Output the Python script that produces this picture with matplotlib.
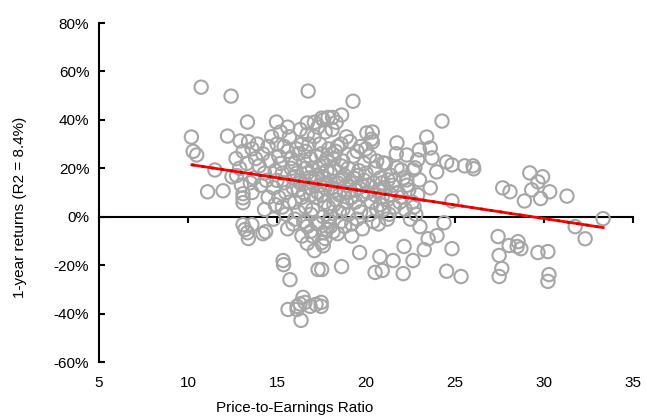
import numpy as np
import matplotlib.pyplot as plt
from matplotlib.ticker import FuncFormatter
import matplotlib.transforms as mtransforms

plt.rcParams['font.family'] = ['Liberation Sans', 'DejaVu Sans']

# (P/E ratio, 1-year return in %)
outliers = [
    (10.74, 53.5), (12.42, 49.8), (16.75, 51.9), (13.34, 39.1), (14.97, 39.1), (10.19, 32.9),
    (12.22, 33.3), (12.93, 31.3), (10.29, 27), (10.49, 25.5), (11.51, 19.3), (12.47, 16.5),
    (12.73, 17), (11.1, 10.3), (11.97, 10.7), (13.09, 9.5), (13.09, 7.8), (13.09, 5.8),
    (13.09, -3.3), (13.59, -3.3), (13.34, -6.6), (13.39, -9), (14.21, -7), (13.2, -5.3),
    (14.36, -6.2), (15.34, -18.1), (15.37, -19.8), (15.73, -26),
    (15.62, -38.3), (16.13, -37), (16.46, -33.3), (16.57, -35.4), (16.86, -37), (17.19, -36.2),
    (16.35, -42.8), (16.13, -38.3), (16.29, -36),
    (17.31, -21.8), (17.51, -21.8), (17.48, -35.4), (17.48, -37),
    (18.15, -6.2), (17.61, -6.6), (17.51, -10.7), (19.64, -14.8), (18.63, -20.6),
    (20.78, -16.5), (21.52, -18.1), (20.91, -22.2), (20.51, -23.0), (22.09, -23.5), (22.14, -12.3),
    (22.64, -18.1), (23.03, -4.1), (23.49, -9.1), (23.99, -7.8), (23.27, -13.6), (24.38, -2.5),
    (24.83, -13.2), (24.53, -22.5), (25.34, -24.7),
    (28.9, 6.5), (29.81, 7.5), (31.29, 8.5),
    (27.42, -8.2), (28.04, -11.9), (28.54, -10.3), (28.7, -13.2), (28.49, -12.3), (27.48, -16),
    (27.63, -21.4), (27.48, -24.7), (29.66, -14.8), (30.22, -14.4), (30.28, -23.9), (30.22, -26.7),
    (31.75, -4.1), (32.31, -9.1), (33.32, -0.8),
    (25.54, 21), (26.01, 21), (26.05, 19.8), (29.2, 18.1), (29.92, 16.5), (30.32, 10.3),
    (29.66, 14.4), (29.31, 11.1), (27.68, 11.9), (28.09, 10.3),
    (19.27, 47.7), (24.27, 39.5), (21.74, 30.5), (23.41, 32.9), (23.61, 28.4), (23.0, 27.6),
    (22.29, 25.5), (22.75, 20.2), (23.97, 18.5), (21.98, 19.3), (20.97, 22.2), (24.53, 22.6),
    (24.83, 21.4), (23.71, 24.3), (22.9, 23.5), (23.61, 11.9), (23.0, 15.2), (24.83, 6.5),
    (20.05, 34.6), (20.36, 35.0), (20.36, 30.9), (18.63, 42), (18.33, 39), (17.61, 40), (18.12, 41),
    (17.71, 35), (21.24, 15.2), (21.74, 20.2), (22.29, 15.2), (22.64, 19.3),
    (16.7, 38.7), (17.1, 39), (17.51, 40.7), (17.87, 41), (16.7, -4), (17.2, -2.5), (17.81, -5.3),
]

core = [
    (13.6, 28), (13.8, 24), (13.9, 30), (14.0, 21), (14.2, 26), (14.3, 18), (14.4, 15), (14.5, 29),
    (14.6, 23), (14.7, 33), (14.8, 12), (14.9, 19), (13.5, 14), (13.7, 16), (14.1, 13), (14.5, 8),
    (14.9, 5), (13.3, 22), (13.1, 27), (13.4, 31), (12.9, 20), (12.7, 24), (13.0, 13), (13.6, 10),
    (14.3, 3), (14.8, -1),
    (15.0, 30), (15.1, 25), (15.2, 22), (15.3, 18), (15.4, 14), (15.5, 10), (15.6, 27), (15.7, 33),
    (15.8, 20), (15.9, 16), (15.1, 8), (15.3, 4), (15.5, 1), (15.7, 6), (15.9, 12), (15.2, 35),
    (15.6, 37), (15.0, 15), (15.4, 29), (15.8, 24), (15.9, -3), (15.6, -5),
    (16.0, 22), (16.1, 18), (16.2, 26), (16.3, 14), (16.4, 30), (16.5, 10), (16.6, 20), (16.7, 34),
    (16.8, 16), (16.9, 24), (16.0, 6), (16.2, 2), (16.4, 8), (16.6, 4), (16.8, 12), (16.1, 28),
    (16.3, 36), (16.5, 23), (16.7, 18), (16.9, 9), (16.0, -1), (16.4, -8), (16.7, -11), (16.9, -6),
    (16.3, 15), (16.6, 27), (16.8, 30), (16.2, 11), (16.5, -2), (16.9, 1),
    (17.0, 20), (17.1, 15), (17.2, 25), (17.3, 10), (17.4, 30), (17.5, 18), (17.6, 22), (17.7, 6),
    (17.8, 14), (17.9, 28), (17.0, 3), (17.2, 8), (17.4, 13), (17.6, 0), (17.8, 19), (17.1, 33),
    (17.3, 37), (17.5, 26), (17.7, 12), (17.9, 4), (17.0, -8), (17.3, -3), (17.6, -12), (17.9, -2),
    (17.2, 17), (17.5, 9), (17.8, 24), (17.4, 21), (17.6, 16), (17.1, -14), (17.7, -9),
    (18.0, 18), (18.1, 12), (18.2, 24), (18.3, 7), (18.4, 29), (18.5, 15), (18.6, 21), (18.7, 3),
    (18.8, 10), (18.9, 33), (18.0, 0), (18.2, 5), (18.4, 14), (18.6, -2), (18.8, 17), (18.1, 36),
    (18.3, 27), (18.5, 9), (18.7, 23), (18.9, 13), (18.0, -4), (18.4, -7), (18.8, -4), (18.2, 20),
    (18.6, 30), (18.9, 6), (18.3, 11), (18.7, 16), (18.5, 2), (18.1, 26),
    (19.0, 20), (19.1, 14), (19.2, 8), (19.3, 25), (19.4, 11), (19.5, 17), (19.6, 4), (19.7, 29),
    (19.8, 13), (19.9, 22), (19.0, 1), (19.2, -3), (19.4, 6), (19.6, 19), (19.8, 9), (19.1, 31),
    (19.3, 16), (19.5, 27), (19.7, 2), (19.9, 15), (19.2, -8), (19.5, -1), (19.8, -5), (19.0, 10),
    (19.6, 12),
    (20.0, 18), (20.1, 10), (20.2, 25), (20.3, 6), (20.4, 14), (20.5, 20), (20.6, 3), (20.7, 11),
    (20.8, 16), (20.9, 8), (20.0, 28), (20.2, 1), (20.4, -2), (20.6, 23), (20.8, 5), (20.1, 13),
    (20.3, 32), (20.5, 9), (20.9, 14), (20.7, -3),
    (21.0, 12), (21.2, 7), (21.4, 17), (21.6, 4), (21.8, 10), (21.1, 22), (21.3, 1), (21.5, 13),
    (21.7, 26), (21.9, 6), (21.2, -1), (21.6, 15), (21.0, 3), (21.4, 9),
    (22.0, 8), (22.2, 3), (22.4, 11), (22.6, 6), (22.8, 1), (22.1, 16), (22.5, -1), (22.9, 9),
    (22.3, 13), (22.7, 4),
]

points = np.array(outliers + core)
pe = points[:, 0]
returns = points[:, 1]

# linear trendline as drawn in the chart (return % = intercept + slope * P/E)
trend_intercept = 32.9
trend_slope = -1.122

x_ticks = [5, 10, 15, 20, 25, 30, 35]
y_ticks = [-60, -40, -20, 0, 20, 40, 60, 80]

fig = plt.figure(figsize=(6.46, 4.2), dpi=100)
ax = fig.add_axes([99 / 646, 1 - 362 / 420, (633 - 99) / 646, (362 - 23) / 420])

ax.scatter(pe, returns, s=92, facecolors='none', edgecolors='#A6A6A6', linewidths=1.5, zorder=2)

xt = np.array([10.22, pe.max()])
ax.plot(xt, trend_intercept + trend_slope * xt, color='#FF0000', lw=2.0, zorder=3)
ax.plot(xt, trend_intercept + trend_slope * xt, color='#C00000', lw=2.0, ls=(0, (1, 2.5)), zorder=4)

ax.set_xlim(5, 35)
ax.set_ylim(-60, 80)
ax.set_xticks(x_ticks)
ax.set_yticks(y_ticks)
ax.yaxis.set_major_formatter(FuncFormatter(lambda v, p: f'{v:.0f}%'))

for s in ['top', 'right']:
    ax.spines[s].set_visible(False)
ax.spines['bottom'].set_position(('data', 0))
ax.spines['bottom'].set_linewidth(1.5)
ax.spines['left'].set_linewidth(1.5)
ax.spines['bottom'].set_zorder(1)

ax.tick_params(axis='y', direction='in', length=4, width=1.5, labelsize=11, pad=7)
ax.tick_params(axis='x', direction='out', length=4, width=1.5, labelbottom=False)

trans = mtransforms.blended_transform_factory(ax.transData, ax.transAxes)
for t in x_ticks:
    ax.text(t, -0.042, str(t), transform=trans, ha='center', va='top', fontsize=11)

ax.set_xlabel('Price-to-Earnings Ratio', fontsize=11)
ax.xaxis.set_label_coords(0.367, -0.115)
ax.set_ylabel('1-year returns (R2 = 8.4%)', fontsize=11)
ax.yaxis.set_label_coords(-0.135, 0.455)

fig.savefig('out.png', dpi=100)
